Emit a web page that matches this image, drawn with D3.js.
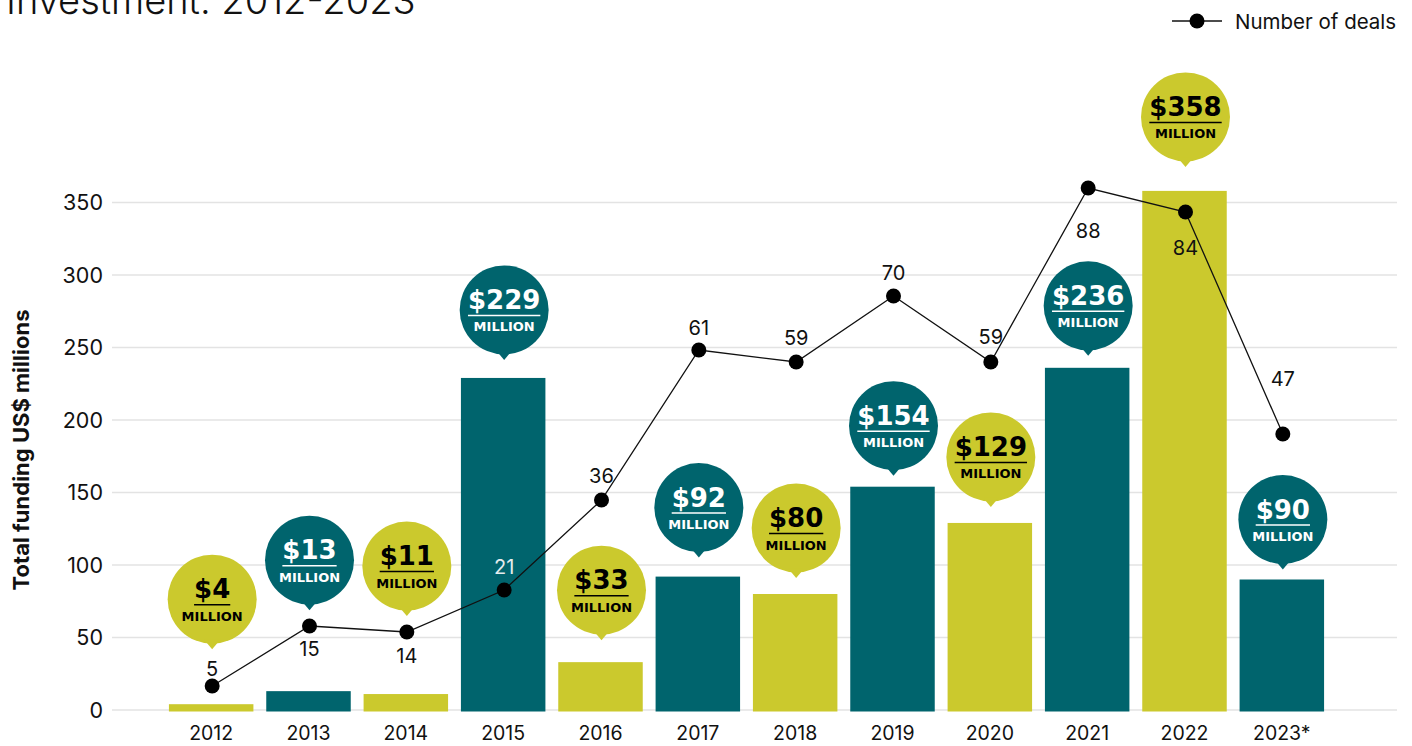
<!DOCTYPE html>
<html>
<head>
<meta charset="utf-8">
<script src="https://cdn.jsdelivr.net/npm/d3@7"></script>
<style>
  body { margin: 0; background: #fff; }
  svg { display: block; font-family: Inter, "Liberation Sans", sans-serif; }
  .grid line { stroke: #e3e3e3; stroke-width: 1.6; }
  .tick-label { font-size: 21.5px; fill: #111; }
  .year-label { font-size: 19.5px; fill: #111; }
  .deal-label { font-size: 20px; fill: #111; }
  .bubble-num { font-family: "DejaVu Sans", sans-serif; font-weight: bold; font-size: 26px; }
  .bubble-unit { font-family: "DejaVu Sans", sans-serif; font-weight: bold; font-size: 13px; }
</style>
</head>
<body>
<svg width="1412" height="746"></svg>
<script>
(function (d3) {
    'use strict';

    // data
    const years = ['2012', '2013', '2014', '2015', '2016', '2017', '2018', '2019', '2020', '2021', '2022', '2023*'];
    const funding = [4, 13, 11, 229, 33, 92, 80, 154, 129, 236, 358, 90];
    const deals = [5, 15, 14, 21, 36, 61, 59, 70, 59, 88, 84, 47];
    const yTicks = [0, 50, 100, 150, 200, 250, 300, 350];

    // annotation layout (pixels relative to the marks)
    const bubbleLift = [105, 131, 128, 68, 72, 69, 66, 61, 66, 62, 74, 60];
    const dealLabelDy = [-17, 23, 23.5, -23, -24.5, -22, -24, -23, -25, 43, 36, -55];

    const teal = '#00646d';
    const lime = '#cbc92d';
    const barColor = (d, i) => i % 2 === 0 ? lime : teal;

    const svg = d3.select('svg');

    const x = d3.scaleBand()
        .domain(years)
        .range([162.5, 1330.5])
        .paddingInner(0.132)
        .paddingOuter(0.066);

    const y = d3.scaleLinear()
        .domain([0, 350])
        .range([710, 202.5]);

    const yDeals = d3.scaleLinear()
        .domain([0, 100])
        .range([716, 116]);

    const rows = years.map((yr, i) => ({
        year: yr, funding: funding[i], deals: deals[i], i
    }));

    // title (top line is cut off in the original)
    svg.append('text')
        .attr('x', 6)
        .attr('y', 14)
        .attr('font-size', 38)
        .attr('font-weight', 300)
        .attr('fill', '#111')
        .text('Investment: 2012-2023');

    // legend
    const legend = svg.append('g').attr('transform', 'translate(1172,21)');
    legend.append('line')
        .attr('x1', 0).attr('x2', 50)
        .attr('stroke', '#111').attr('stroke-width', 1.5);
    legend.append('circle')
        .attr('cx', 25).attr('r', 7.5).attr('fill', '#000');
    legend.append('text')
        .attr('x', 63).attr('y', 7.5)
        .attr('font-size', 20.5)
        .attr('fill', '#111')
        .text('Number of deals');

    // gridlines + y ticks
    const grid = svg.append('g').attr('class', 'grid');
    grid.selectAll('line').data(yTicks)
        .enter().append('line')
        .attr('x1', 112).attr('x2', 1397)
        .attr('y1', d => y(d)).attr('y2', d => y(d));

    svg.append('g').selectAll('text').data(yTicks)
        .enter().append('text')
        .attr('class', 'tick-label')
        .attr('x', 103)
        .attr('y', d => y(d) + 7.5)
        .attr('text-anchor', 'end')
        .text(d => d);

    svg.append('text')
        .attr('transform', 'translate(29,450) rotate(-90)')
        .attr('text-anchor', 'middle')
        .attr('font-size', 22)
        .attr('font-weight', 700)
        .attr('fill', '#111')
        .text('Total funding US$ millions');

    // bars
    svg.append('g').selectAll('rect').data(rows)
        .enter().append('rect')
        .attr('x', d => x(d.year))
        .attr('y', d => y(d.funding))
        .attr('width', x.bandwidth())
        .attr('height', d => y(0) - y(d.funding) + 1.5)
        .attr('fill', barColor);

    // x labels
    svg.append('g').selectAll('text').data(rows)
        .enter().append('text')
        .attr('class', 'year-label')
        .attr('x', d => x(d.year) + x.bandwidth() / 2)
        .attr('y', 740)
        .attr('text-anchor', 'middle')
        .text(d => d.year);

    // deals line
    const cx = d => x(d.year) + x.bandwidth() / 2 + 1;
    const line = d3.line()
        .x(cx)
        .y(d => yDeals(d.deals));

    svg.append('path')
        .datum(rows)
        .attr('d', line)
        .attr('fill', 'none')
        .attr('stroke', '#111')
        .attr('stroke-width', 1.3);

    svg.append('g').selectAll('circle').data(rows)
        .enter().append('circle')
        .attr('cx', cx)
        .attr('cy', d => yDeals(d.deals))
        .attr('r', 7.5)
        .attr('fill', '#000');

    svg.append('g').selectAll('text').data(rows)
        .enter().append('text')
        .attr('class', 'deal-label')
        .attr('x', cx)
        .attr('y', d => yDeals(d.deals) + dealLabelDy[d.i] + 7)
        .attr('text-anchor', 'middle')
        .style('fill', d => d.year === '2015' ? '#e4eced' : '#111')
        .text(d => d.deals);

    // bubbles
    const r = 44.5;
    const bubbles = svg.append('g').selectAll('g').data(rows)
        .enter().append('g')
        .attr('transform', d =>
            `translate(${x(d.year) + x.bandwidth() / 2 + 1},${y(d.funding) - bubbleLift[d.i]})`
        );

    bubbles.append('circle')
        .attr('r', r)
        .attr('fill', barColor);

    bubbles.append('path')
        .attr('d', `M-8,${r - 4}L0,${r + 5.5}L8,${r - 4}Z`)
        .attr('fill', barColor);

    const inkColor = d => d.i % 2 === 0 ? '#000' : '#fff';

    bubbles.append('text')
        .attr('class', 'bubble-num')
        .attr('y', -1)
        .attr('text-anchor', 'middle')
        .attr('fill', inkColor)
        .text(d => '$' + d.funding);

    bubbles.each(function (d) {
        const g = d3.select(this);
        const w = g.select('.bubble-num').node().getComputedTextLength();
        g.append('line')
            .attr('x1', -w / 2).attr('x2', w / 2)
            .attr('y1', 5.5).attr('y2', 5.5)
            .attr('stroke', inkColor(d))
            .attr('stroke-width', 1.5);
    });

    bubbles.append('text')
        .attr('class', 'bubble-unit')
        .attr('y', 21.5)
        .attr('text-anchor', 'middle')
        .attr('fill', inkColor)
        .text('MILLION');

}(d3));
</script>
</body>
</html>
